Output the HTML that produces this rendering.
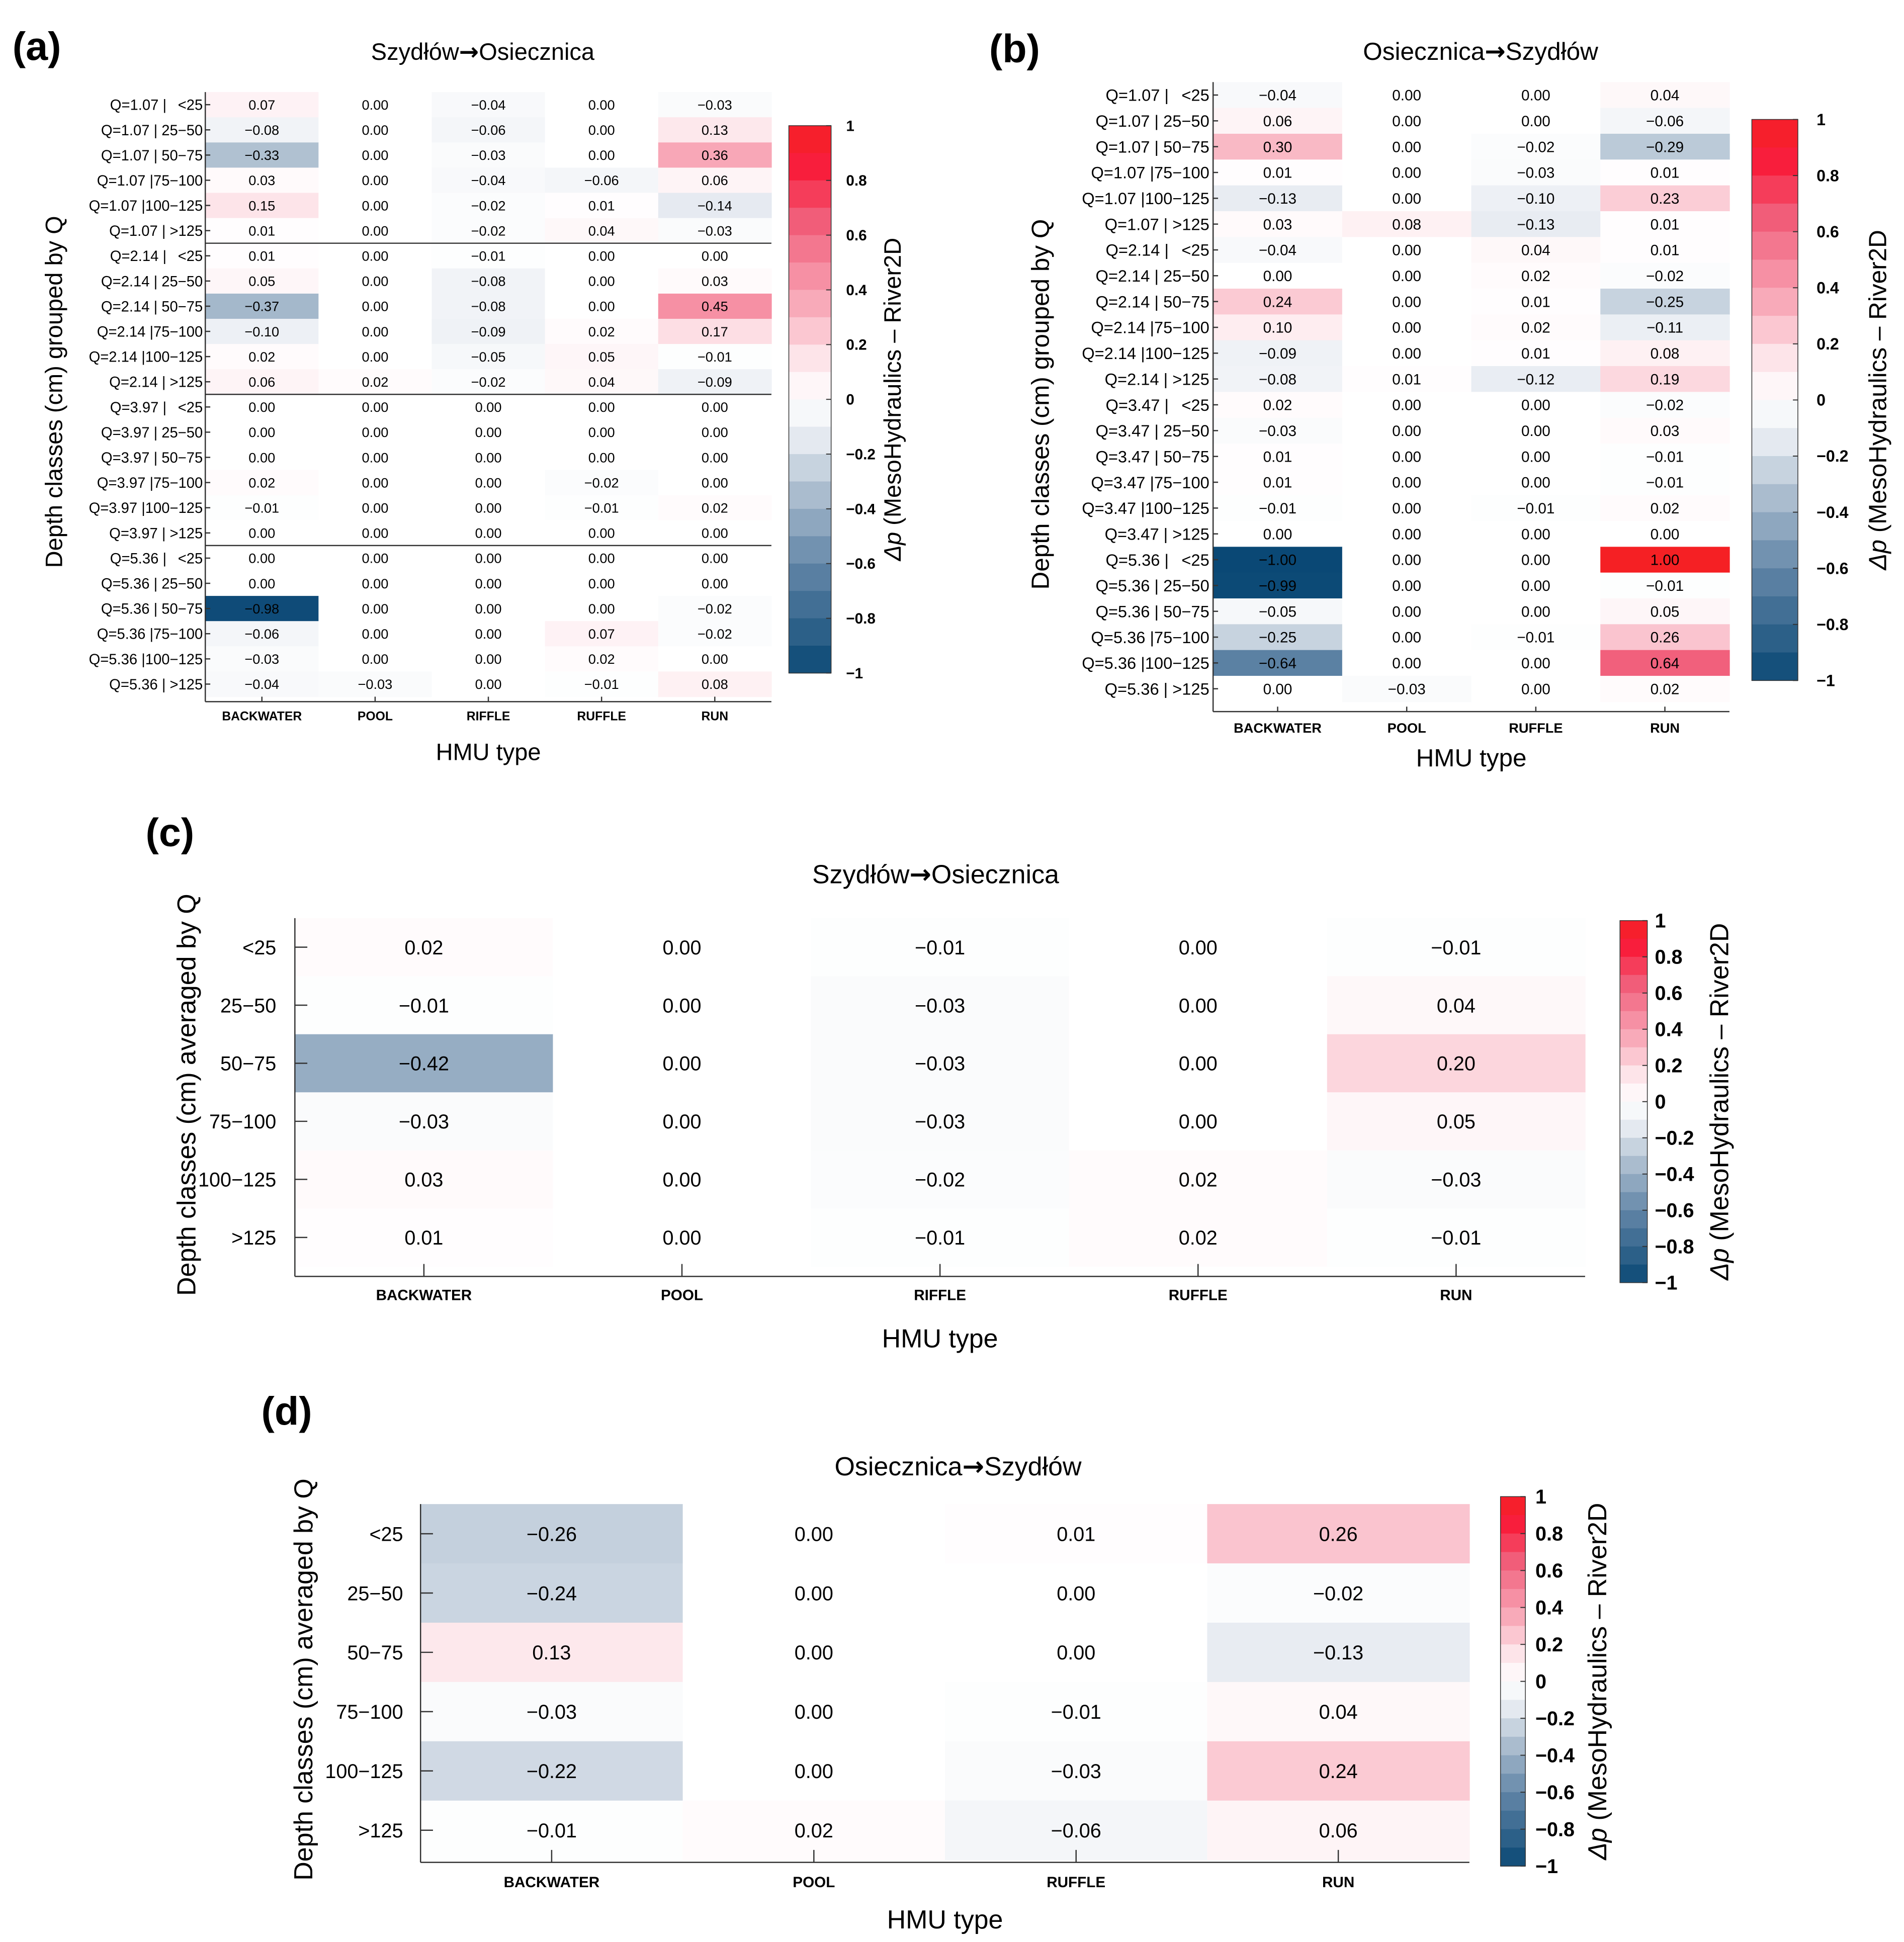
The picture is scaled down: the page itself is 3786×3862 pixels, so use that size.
<!DOCTYPE html>
<html><head><meta charset="utf-8"><style>
html,body{margin:0;padding:0;background:#fff}
svg{display:block}
text{font-family:"Liberation Sans",sans-serif;fill:#000}
</style></head><body>
<svg id="fig" xmlns="http://www.w3.org/2000/svg" width="3786" height="3862" viewBox="0 0 1530.3 1561">
<rect width="1530.3" height="1561" fill="#fff"/>
</svg>
<script>
const colsA = ["BACKWATER","POOL","RIFFLE","RUFFLE","RUN"];
const colsB = ["BACKWATER","POOL","RUFFLE","RUN"];
const depthClasses = ["<25","25\u221250","50\u221275","75\u2212100","100\u2212125",">125"];
const qA = ["1.07","2.14","3.97","5.36"];
const qB = ["1.07","2.14","3.47","5.36"];
const valuesA = [
[.07,0,-.04,0,-.03],[-.08,0,-.06,0,.13],[-.33,0,-.03,0,.36],[.03,0,-.04,-.06,.06],[.15,0,-.02,.01,-.14],[.01,0,-.02,.04,-.03],
[.01,0,-.01,0,0],[.05,0,-.08,0,.03],[-.37,0,-.08,0,.45],[-.10,0,-.09,.02,.17],[.02,0,-.05,.05,-.01],[.06,.02,-.02,.04,-.09],
[0,0,0,0,0],[0,0,0,0,0],[0,0,0,0,0],[.02,0,0,-.02,0],[-.01,0,0,-.01,.02],[0,0,0,0,0],
[0,0,0,0,0],[0,0,0,0,0],[-.98,0,0,0,-.02],[-.06,0,0,.07,-.02],[-.03,0,0,.02,0],[-.04,-.03,0,-.01,.08]];
const valuesB = [
[-.04,0,0,.04],[.06,0,0,-.06],[.30,0,-.02,-.29],[.01,0,-.03,.01],[-.13,0,-.10,.23],[.03,.08,-.13,.01],
[-.04,0,.04,.01],[0,0,.02,-.02],[.24,0,.01,-.25],[.10,0,.02,-.11],[-.09,0,.01,.08],[-.08,.01,-.12,.19],
[.02,0,0,-.02],[-.03,0,0,.03],[.01,0,0,-.01],[.01,0,0,-.01],[-.01,0,-.01,.02],[0,0,0,0],
[-1.00,0,0,1.00],[-.99,0,0,-.01],[-.05,0,0,.05],[-.25,0,-.01,.26],[-.64,0,0,.64],[0,-.03,0,.02]];
const valuesC = [[.02,0,-.01,0,-.01],[-.01,0,-.03,0,.04],[-.42,0,-.03,0,.20],[-.03,0,-.03,0,.05],[.03,0,-.02,.02,-.03],[.01,0,-.01,.02,-.01]];
const valuesD = [[-.26,0,.01,.26],[-.24,0,0,-.02],[.13,0,0,-.13],[-.03,0,-.01,.04],[-.22,0,-.03,.24],[-.01,.02,-.06,.06]];
const cbTicks = [1,0.8,0.6,0.4,0.2,0,-0.2,-0.4,-0.6,-0.8,-1];

const NS="http://www.w3.org/2000/svg";
const svg=document.getElementById('fig');
function mk(tag,attrs,parent,txt){const e=document.createElementNS(NS,tag);for(const k in attrs)e.setAttribute(k,attrs[k]);if(txt!==undefined)e.textContent=txt;(parent||svg).appendChild(e);return e;}
function lerp(a,b,t){return a.map((v,i)=>Math.round(v+(b[i]-v)*t));}
function interp(stops,v){for(let i=0;i<stops.length-1;i++){if(v<=stops[i+1][0]){const t=(v-stops[i][0])/(stops[i+1][0]-stops[i][0]);return lerp(stops[i][1],stops[i+1][1],t);}}return stops[stops.length-1][1];}
const neg=[[0,[255,255,255]],[0.15,[228,233,240]],[0.35,[170,188,206]],[0.6,[100,135,168]],[1,[10,72,117]]];
const pos=[[0,[255,255,255]],[0.15,[253,228,233]],[0.35,[248,170,185]],[0.64,[241,96,124]],[0.85,[248,30,60]],[1,[245,32,36]]];
function color(v){const c=v<0?interp(neg,-v):interp(pos,v);return `rgb(${c[0]},${c[1]},${c[2]})`;}
function fmt(v){const s=Math.abs(v).toFixed(2);return (v<0?"\u2212":"")+s;}

function colorbar(g,x,y0,w,y1,fs,labX,titleX,titleFs){
  const n=20,h=(y1-y0)/n;
  for(let i=0;i<n;i++){const v=1-(i+0.5)*2/n;
    const r=mk('rect',{x:x,y:y0+i*h,width:w,height:h+0.3,fill:color(v)},g);
    
    }
  mk('rect',{x:x,y:y0,width:w,height:y1-y0,fill:'none',stroke:'#333','stroke-width':0.6},g);
  cbTicks.forEach(t=>{const yy=y0+(1-t)/2*(y1-y0);
    mk('line',{x1:x+w-4,x2:x+w,y1:yy,y2:yy,stroke:'#333','stroke-width':0.8},g);
    const tx=mk('text',{x:labX,y:yy+fs*0.35,'font-size':fs,'font-weight':'bold'},g,t===0?"0":(t<0?"\u2212":"")+Math.abs(t));
    
    });
  const cy=(y0+y1)/2;
  const tt=mk('text',{x:titleX,y:cy,'font-size':titleFs,'text-anchor':'middle',transform:`rotate(-90 ${titleX} ${cy})`},g);
  
  
  mk('tspan',{'font-style':'italic'},tt,"\u0394p");
  mk('tspan',{},tt," (MesoHydraulics \u2013 River2D");
}

function heatmap(o){
  const g=mk('g',{});
  
  
  const nr=o.data.length,nc=o.cols.length;
  const cw=(o.x1-o.x0)/nc,rh=(o.y1-o.y0)/nr;
  const xs=j=>o.x0+j*cw, ys=i=>o.y0+i*rh;
  o.data.forEach((row,i)=>row.forEach((v,j)=>{
    const r=mk('rect',{x:xs(j),y:ys(i),width:cw+0.3,height:rh+0.3,fill:color(v)},g);
    
    
    const t=mk('text',{x:xs(j)+cw/2,y:ys(i)+rh/2+o.vfs*0.36,'font-size':o.vfs,'text-anchor':'middle',fill:Math.abs(v)>0.8?'#fff':'#000'},g,fmt(v));
    
    
  }));
  if(o.seps) o.seps.forEach(k=>mk('line',{x1:o.x0,x2:o.x1,y1:ys(k),y2:ys(k),stroke:'#333','stroke-width':1},g));
  mk('line',{x1:o.x0,x2:o.x0,y1:o.y0,y2:o.axisY,stroke:'#333','stroke-width':1},g);
  mk('line',{x1:o.x0,x2:o.x1,y1:o.axisY,y2:o.axisY,stroke:'#333','stroke-width':1},g);
  o.rowLabels.forEach((l,i)=>{const yy=ys(i)+rh/2;
    mk('line',{x1:o.x0,x2:o.x0+o.tick,y1:yy,y2:yy,stroke:'#333','stroke-width':1},g);
    const t=mk('text',{x:o.labX,y:yy+o.lfs*0.36,'font-size':o.lfs,'text-anchor':'end'},g,l);
    
    });
  o.cols.forEach((c,j)=>{const xx=xs(j)+cw/2;
    mk('line',{x1:xx,x2:xx,y1:o.axisY,y2:o.axisY-o.tick,stroke:'#333','stroke-width':1},g);
    const t=mk('text',{x:xx,y:o.colY,'font-size':o.cfs,'font-weight':'bold','text-anchor':'middle'},g,c);
    
    });
  const xt=mk('text',{x:(o.x0+o.x1)/2,y:o.xtY,'font-size':o.tfs,'text-anchor':'middle'},g,"HMU type");
  
  
  const cy=o.ytCY;
  const yt=mk('text',{x:o.ytX,y:cy,'font-size':o.tfs,'text-anchor':'middle',transform:`rotate(-90 ${o.ytX} ${cy})`},g,o.ytitle);
  
  
  const ti=mk('text',{x:o.titleX,y:o.titleY,'font-size':o.tfs,'text-anchor':'middle'},g);
  
  
  mk('tspan',{},ti,o.title[0]);
  mk('tspan',{'font-family':'DejaVu Sans','font-weight':'bold'},ti,"\u2192");
  mk('tspan',{},ti,o.title[1]);
  const pl=mk('text',{x:o.pX,y:o.pY,'font-size':32,'font-weight':'bold'},g,o.panel);
  
  
  colorbar(g,o.cb[0],o.cb[1],o.cb[2],o.cb[3],o.cb[4],o.cb[5],o.cb[6],o.cb[7]);
}
function qLabels(qs){const out=[];qs.forEach(q=>depthClasses.forEach(d=>{const pad=d.length<4?"\u2002 ":(d.length<6?" ":"");out.push("Q="+q+" |"+pad+d);}));return out;}

heatmap({name:'panel-a',data:valuesA,cols:colsA,rowLabels:qLabels(qA),x0:165,x1:620,y0:74,y1:560,axisY:564,seps:[6,12,18],
  tick:4,labX:163,lfs:11.8,vfs:11,cfs:10,colY:579,tfs:19,xtY:611,ytX:50,ytCY:315,ytitle:"Depth classes (cm) grouped by Q",
  title:["Szydłów","Osiecznica"],titleX:388,titleY:48,panel:"(a)",pX:10,pY:48,cb:[634,101,34,541,12,680,724,19]});
heatmap({name:'panel-b',data:valuesB,cols:colsB,rowLabels:qLabels(qB),x0:975,x1:1390,y0:66,y1:564,axisY:572,seps:null,
  tick:4,labX:972,lfs:13.2,vfs:12,cfs:11,colY:589,tfs:20,xtY:616,ytX:843,ytCY:325,ytitle:"Depth classes (cm) grouped by Q",
  title:["Osiecznica","Szydłów"],titleX:1190,titleY:48,panel:"(b)",pX:795,pY:50,cb:[1408,96,37,547,13,1460,1516,20]});
heatmap({name:'panel-c',data:valuesC,cols:colsA,rowLabels:depthClasses,x0:237,x1:1274,y0:738,y1:1018,axisY:1026,seps:null,
  tick:10,labX:222,lfs:16,vfs:16,cfs:12,colY:1045,tfs:21,xtY:1083,ytX:157,ytCY:880,ytitle:"Depth classes (cm) averaged by Q",
  title:["Szydłów","Osiecznica"],titleX:752,titleY:710,panel:"(c)",pX:117,pY:680,cb:[1302,740,22,1031,16,1330,1389,21]});
heatmap({name:'panel-d',data:valuesD,cols:colsB,rowLabels:depthClasses,x0:338,x1:1181,y0:1209,y1:1495,axisY:1497,seps:null,
  tick:10,labX:324,lfs:16,vfs:16,cfs:12,colY:1517,tfs:21,xtY:1550,ytX:251,ytCY:1350,ytitle:"Depth classes (cm) averaged by Q",
  title:["Osiecznica","Szydłów"],titleX:770,titleY:1186,panel:"(d)",pX:210,pY:1145,cb:[1206,1203,20,1500,16,1234,1291,21]});
</script>
</body></html>
